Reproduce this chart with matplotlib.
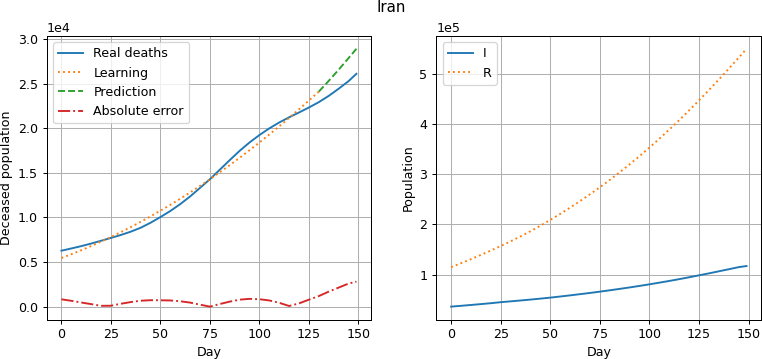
import numpy as np
import matplotlib
matplotlib.use("Agg")
import matplotlib.pyplot as plt

# ---- data (deaths in units of 1e4, populations in units of 1e5) ----
days = [0, 5, 10, 15, 20, 25, 30, 35, 40, 45, 50, 55, 60, 65, 70, 75, 80, 85,
        90, 95, 100, 105, 110, 115, 120, 125, 130, 135, 140, 145, 149]

real_deaths = [0.627, 0.652, 0.678, 0.707, 0.738, 0.770, 0.803, 0.840, 0.884,
               0.940, 1.004, 1.072, 1.149, 1.235, 1.331, 1.428, 1.535, 1.642,
               1.746, 1.840, 1.923, 1.998, 2.064, 2.122, 2.176, 2.232, 2.292,
               2.362, 2.442, 2.527, 2.610]

learn_days = [0, 5, 10, 15, 20, 25, 30, 35, 40, 45, 50, 55, 60, 65, 70, 75, 80,
              85, 90, 95, 100, 105, 110, 115, 120, 125, 130]
learning = [0.545, 0.587, 0.632, 0.679, 0.729, 0.780, 0.835, 0.891, 0.950,
            1.012, 1.075, 1.141, 1.209, 1.280, 1.353, 1.428, 1.506, 1.586,
            1.668, 1.753, 1.840, 1.929, 2.021, 2.115, 2.212, 2.310, 2.410]

pred_days = [130, 135, 140, 145, 149]
prediction = [2.410, 2.530, 2.655, 2.785, 2.890]

I_vals = [0.364, 0.380, 0.397, 0.414, 0.432, 0.452, 0.469, 0.486, 0.504,
          0.523, 0.543, 0.565, 0.588, 0.612, 0.636, 0.662, 0.689, 0.717,
          0.746, 0.776, 0.808, 0.841, 0.875, 0.911, 0.948, 0.987, 1.026,
          1.067, 1.108, 1.150, 1.172]
R_vals = [1.150, 1.228, 1.309, 1.393, 1.480, 1.570, 1.664, 1.762, 1.865,
          1.974, 2.090, 2.210, 2.335, 2.465, 2.600, 2.740, 2.886, 3.038,
          3.196, 3.360, 3.530, 3.706, 3.888, 4.076, 4.270, 4.470, 4.675,
          4.885, 5.100, 5.320, 5.498]

# ---- derived series in real units ----
d = np.array(days)
real = np.array(real_deaths) * 1e4
learn = np.array(learning) * 1e4
pred = np.array(prediction) * 1e4
model = np.concatenate([learn, pred[1:]])
abs_err = np.abs(real - model)
I_pop = np.array(I_vals) * 1e5
R_pop = np.array(R_vals) * 1e5

DPI = 91
fig = plt.figure(figsize=(762 / DPI, 359 / DPI), dpi=DPI)
ax1 = fig.add_axes([0.0613, 0.110, 0.4258, 0.790])
ax2 = fig.add_axes([0.5726, 0.110, 0.4265, 0.790])

ax1.plot(d, real, '-', color='C0', label='Real deaths')
ax1.plot(learn_days, learn, ':', color='C1', label='Learning')
ax1.plot(pred_days, pred, '--', color='C2', label='Prediction')
ax1.plot(d, abs_err, '-.', color='C3', label='Absolute error')
ax1.set_xlabel('Day')
ax1.set_ylabel('Deceased population')
ax1.ticklabel_format(axis='y', style='sci', scilimits=(0, 0))
ax1.grid(True)
ax1.legend(loc='upper left')

ax2.plot(d, I_pop, '-', color='C0', label='I')
ax2.plot(d, R_pop, ':', color='C1', label='R')
ax2.set_xlabel('Day')
ax2.set_ylabel('Population')
ax2.ticklabel_format(axis='y', style='sci', scilimits=(0, 0))
ax2.grid(True)
ax2.legend(loc='upper left')

fig.text(0.514, 1 - 12 / 359, 'Iran', ha='center', va='baseline', fontsize=12)

fig.savefig('out.png', dpi=DPI)
